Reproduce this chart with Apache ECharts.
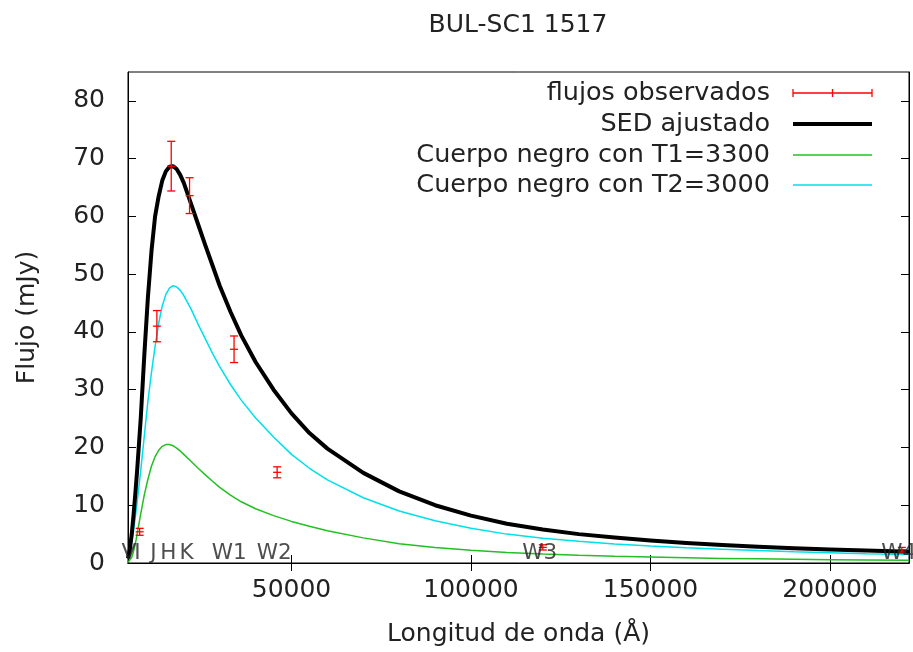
<!DOCTYPE html>
<html>
<head>
<meta charset="utf-8">
<script src="https://cdn.jsdelivr.net/npm/echarts@6/dist/echarts.min.js"></script>
<style>html,body{margin:0;padding:0;background:#fff}#c{width:913px;height:652px}</style>
</head>
<body>
<div id="c"></div>
<script>
// Wavelength grid (Å) for the model curves
const lam = [4457, 5000, 5500, 6000, 6500, 7000, 8000, 9000, 10000, 11000, 12000, 13000, 14000, 15000, 16000, 17000, 18000, 19000, 20000, 22000, 24000, 26000, 28000, 30000, 33000, 36000, 40000, 45000, 50000, 55000, 60000, 70000, 80000, 90000, 100000, 110000, 120000, 130000, 140000, 150000, 160000, 170000, 180000, 190000, 200000, 210000, 222000];
// SED ajustado (mJy)
const sed = [0.8, 2.5, 5.0, 8.3, 12, 16, 25, 36, 46, 54, 60, 63.5, 66.2, 67.8, 68.6, 68.7, 68.2, 67.2, 65.8, 62.2, 58.6, 55, 51.5, 48, 43.5, 39.4, 34.8, 30, 25.9, 22.5, 19.8, 15.6, 12.4, 10.0, 8.2, 6.8, 5.8, 5.0, 4.4, 3.9, 3.45, 3.1, 2.8, 2.55, 2.35, 2.15, 1.95];
// Cuerpo negro T1=3300
const bb1 = [0.1, 0.4, 1.0, 2.0, 3.3, 5.0, 8.5, 11.8, 14.5, 16.8, 18.4, 19.5, 20.2, 20.5, 20.5, 20.3, 19.9, 19.4, 18.8, 17.6, 16.4, 15.25, 14.15, 13.1, 11.75, 10.6, 9.4, 8.2, 7.2, 6.35, 5.6, 4.35, 3.35, 2.7, 2.2, 1.82, 1.55, 1.33, 1.15, 1.02, 0.9, 0.8, 0.72, 0.65, 0.58, 0.53, 0.47];
// Cuerpo negro T2=3000
const bb2 = [0.8, 2.0, 3.6, 5.6, 8.0, 10.5, 16, 22, 28, 33, 37.5, 41.5, 44.5, 46.5, 47.6, 48, 47.8, 47.2, 46.3, 44, 41.3, 38.8, 36.3, 34.0, 30.9, 28.2, 25.1, 21.8, 18.8, 16.4, 14.4, 11.3, 9.0, 7.3, 6.0, 5.0, 4.3, 3.75, 3.3, 2.95, 2.65, 2.4, 2.15, 1.95, 1.78, 1.62, 1.45];
// Observed fluxes
const obsLam = [7700, 12500, 16500, 21600, 34000, 46000, 120000, 220000];
const obsFlux = [5.4, 41.0, 68.7, 63.6, 37.0, 15.7, 2.7, 2.3];
const obsErr = [0.6, 2.7, 4.3, 3.1, 2.3, 0.95, 0.45, 0.4];
// Band labels
const bandNames = ['V', 'I', 'J', 'H', 'K', 'W1', 'W2', 'W3', 'W4'];
const bandLam = [5500, 7900, 12350, 16500, 21600, 33500, 46000, 120000, 220000];
const bandY = 1.6;
// Axis ticks
const xTicks = [50000, 100000, 150000, 200000];
const yTicks = [0, 10, 20, 30, 40, 50, 60, 70, 80];

const FONT = 'DejaVu Sans';
const TXT = '#222';
const FS = 25;
const FSB = 21.5;
const zip = (a, b) => a.map((v, i) => [v, b[i]]);

const chart = echarts.init(document.getElementById('c'), null, {renderer: 'canvas'});

function errRender(params, api) {
  const x = api.value(0), y = api.value(1), e = api.value(2);
  const pc = api.coord([x, y]);
  const pl = api.coord([x, y - e]);
  const ph = api.coord([x, y + e]);
  const st = {stroke: '#ff0000', lineWidth: 1.3};
  const w = 4;
  return {
    type: 'group',
    children: [
      {type: 'line', shape: {x1: pc[0], y1: ph[1], x2: pc[0], y2: pl[1]}, style: st},
      {type: 'line', shape: {x1: pc[0] - w, y1: ph[1], x2: pc[0] + w, y2: ph[1]}, style: st},
      {type: 'line', shape: {x1: pc[0] - w, y1: pl[1], x2: pc[0] + w, y2: pl[1]}, style: st},
      {type: 'line', shape: {x1: pc[0] - w, y1: pc[1], x2: pc[0] + w, y2: pc[1]}, style: st}
    ]
  };
}

const axisCommon = {
  type: 'value',
  axisLine: {show: true, lineStyle: {color: '#000', width: 1}},
  splitLine: {show: false},
};

const legendRows = [
  {text: 'flujos observados', y: 93},
  {text: 'SED ajustado', y: 124},
  {text: 'Cuerpo negro con T1=3300', y: 155},
  {text: 'Cuerpo negro con T2=3000', y: 185}
];
const LX1 = 793, LX2 = 872, LTX = 770;
const graphics = [];
legendRows.forEach(r => {
  graphics.push({type: 'text', x: LTX, y: r.y, style: {text: r.text, font: '25.5px "' + FONT + '"', fill: TXT, textAlign: 'right', textVerticalAlign: 'middle'}});
});
graphics.push({type: 'line', shape: {x1: LX1, y1: 93, x2: LX2, y2: 93}, style: {stroke: '#ff0000', lineWidth: 1.3}});
graphics.push({type: 'line', shape: {x1: LX1, y1: 89, x2: LX1, y2: 97}, style: {stroke: '#ff0000', lineWidth: 1.3}});
graphics.push({type: 'line', shape: {x1: LX2, y1: 89, x2: LX2, y2: 97}, style: {stroke: '#ff0000', lineWidth: 1.3}});
graphics.push({type: 'line', shape: {x1: (LX1 + LX2) / 2, y1: 89, x2: (LX1 + LX2) / 2, y2: 97}, style: {stroke: '#ff0000', lineWidth: 1.3}});
graphics.push({type: 'line', shape: {x1: LX1, y1: 124, x2: LX2, y2: 124}, style: {stroke: '#000', lineWidth: 4}});
graphics.push({type: 'line', shape: {x1: LX1, y1: 155, x2: LX2, y2: 155}, style: {stroke: '#22c022', lineWidth: 1.5}});
graphics.push({type: 'line', shape: {x1: LX1, y1: 185, x2: LX2, y2: 185}, style: {stroke: '#00e0e8', lineWidth: 1.5}});

const option = {
  animation: false,
  backgroundColor: '#fff',
  textStyle: {fontFamily: FONT},
  title: {
    text: 'BUL-SC1 1517', left: 513, top: 8, textAlign: 'center',
    textStyle: {fontFamily: FONT, fontSize: FS, fontWeight: 'normal', color: TXT}
  },
  grid: {left: 128, right: 4, top: 72, bottom: 88, show: true, borderColor: '#000', borderWidth: 1, containLabel: false},
  xAxis: [
    Object.assign({}, axisCommon, {
      min: 4457, max: 222000, position: 'bottom',
      axisTick: {show: true, inside: true, length: 8, lineStyle: {color: '#000'}, customValues: xTicks},
      axisLabel: {show: true, customValues: xTicks, formatter: v => String(v), fontFamily: FONT, fontSize: FS, color: TXT, margin: 15},
      name: 'Longitud de onda (Å)', nameLocation: 'middle', nameGap: 59,
      nameTextStyle: {fontFamily: FONT, fontSize: FS, color: TXT}
    }),
    Object.assign({}, axisCommon, {
      min: 4457, max: 222000, position: 'top',
      axisTick: {show: true, inside: true, length: 8, lineStyle: {color: '#000'}, customValues: xTicks},
      axisLabel: {show: false}
    })
  ],
  yAxis: [
    Object.assign({}, axisCommon, {
      min: 0, max: 85, position: 'left',
      axisTick: {show: true, inside: true, length: 8, lineStyle: {color: '#000'}, customValues: yTicks},
      axisLabel: {show: true, customValues: yTicks, formatter: v => String(v), fontFamily: FONT, fontSize: FS, color: TXT, margin: 23},
      name: 'Flujo (mJy)', nameLocation: 'middle', nameGap: 88, nameRotate: 90,
      nameTextStyle: {fontFamily: FONT, fontSize: FS, color: TXT}
    }),
    Object.assign({}, axisCommon, {
      min: 0, max: 85, position: 'right',
      axisTick: {show: true, inside: true, length: 8, lineStyle: {color: '#000'}, customValues: yTicks},
      axisLabel: {show: false}
    })
  ],
  graphic: graphics,
  series: [
    {
      type: 'line', name: 'Cuerpo negro con T1=3300', data: zip(lam, bb1), showSymbol: false,
      smooth: false, lineStyle: {color: '#22c022', width: 1.5}, z: 2
    },
    {
      type: 'line', name: 'Cuerpo negro con T2=3000', data: zip(lam, bb2), showSymbol: false,
      smooth: false, lineStyle: {color: '#00e0e8', width: 1.5}, z: 3
    },
    {
      type: 'line', name: 'SED ajustado', data: zip(lam, sed), showSymbol: false,
      smooth: false, lineStyle: {color: '#000', width: 4, join: 'round'}, z: 4
    },
    {
      type: 'custom', name: 'flujos observados', renderItem: errRender,
      data: obsLam.map((l, i) => [l, obsFlux[i], obsErr[i]]), z: 6
    },
    {
      type: 'scatter', name: 'bandas', symbolSize: 0,
      data: bandLam.map((l, i) => ({value: [l, bandY], name: bandNames[i]})),
      label: {show: true, position: 'inside', offset: [-3, 0], formatter: p => p.name, fontFamily: FONT, fontSize: FSB, color: TXT},
      z: 7, silent: true
    }
  ]
};
chart.setOption(option);
</script>
</body>
</html>
